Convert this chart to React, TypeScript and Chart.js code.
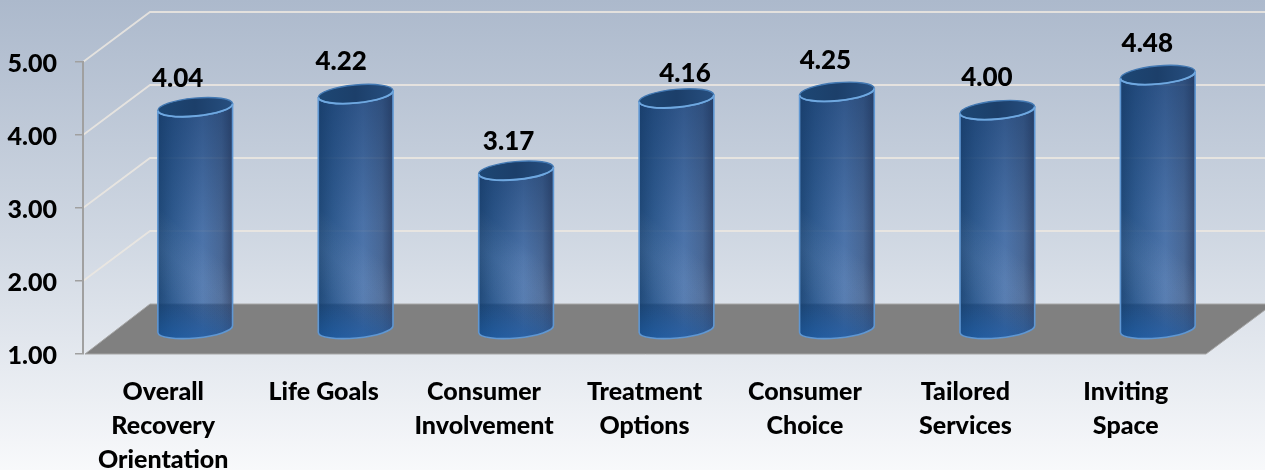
import React, { useEffect, useRef } from "react";
import { Chart, registerables } from "chart.js";

Chart.register(...registerables);

const categories = [
  ["Overall", "Recovery", "Orientation"],
  "Life Goals",
  ["Consumer", "Involvement"],
  ["Treatment", "Options"],
  ["Consumer", "Choice"],
  ["Tailored", "Services"],
  ["Inviting", "Space"],
];
const scores = [4.04, 4.22, 3.17, 4.16, 4.25, 4.0, 4.48];
const valueTicks = [1, 2, 3, 4, 5];

const FONT = "Lato, 'Open Sans', sans-serif";
const DEPTH_X = 67;
const DEPTH_Y = 50;
const BAR_SHIFT = 32;
const TILT = (-5.3 * Math.PI) / 180;
const RY = 9;
const labelNudge = [
  [-19, -28],
  [-16, -32],
  [-9, -29],
  [7, -25],
  [-13, -31],
  [-12, -32],
  [-12, -31],
];

const scenePlugin = {
  id: "scene",
  beforeDraw(chart: any) {
    const { ctx, width, height, chartArea } = chart;
    const y = chart.scales.y;
    const bg = ctx.createLinearGradient(0, 0, 0, height);
    bg.addColorStop(0, "#acb9cc");
    bg.addColorStop(0.5, "#cfd7e2");
    bg.addColorStop(1, "#f8f9fb");
    ctx.save();
    ctx.fillStyle = bg;
    ctx.fillRect(0, 0, width, height);

    const l = chartArea.left;
    const r = chartArea.right;
    // side + back wall gridlines
    ctx.strokeStyle = "rgba(236,232,224,0.85)";
    ctx.lineWidth = 1.8;
    valueTicks.slice(1).forEach((v) => {
      const py = y.getPixelForValue(v);
      ctx.beginPath();
      ctx.moveTo(l, py);
      ctx.lineTo(l + DEPTH_X, py - DEPTH_Y);
      ctx.lineTo(r + DEPTH_X, py - DEPTH_Y);
      ctx.stroke();
    });
    // floor
    const b = y.getPixelForValue(1);
    ctx.beginPath();
    ctx.moveTo(l + 2, b);
    ctx.lineTo(l + DEPTH_X, b - DEPTH_Y);
    ctx.lineTo(r + DEPTH_X, b - DEPTH_Y);
    ctx.lineTo(r, b);
    ctx.closePath();
    ctx.fillStyle = "#808080";
    ctx.fill();
    ctx.strokeStyle = "#a6a6a6";
    ctx.lineWidth = 1;
    ctx.stroke();
    ctx.restore();
  },
  beforeDatasetDraw(chart: any, args: any) {
    const { ctx } = chart;
    const meta = chart.getDatasetMeta(args.index);
    const floorY = chart.scales.y.getPixelForValue(1);
    ctx.save();
    meta.data.forEach((bar: any) => {
      const cx = bar.x + BAR_SHIFT;
      const rx = bar.width / 2;
      const topY = bar.y - DEPTH_Y / 2;
      const baseY = floorY - DEPTH_Y / 2;
      const dx = rx * Math.cos(TILT);
      const dy = rx * Math.sin(TILT);

      const bodyPath = () => {
        ctx.beginPath();
        ctx.moveTo(cx - dx, topY - dy);
        ctx.ellipse(cx, baseY, rx, RY, TILT, Math.PI, 0, true);
        ctx.lineTo(cx + dx, topY + dy);
        ctx.ellipse(cx, topY, rx, RY, TILT, 0, Math.PI, false);
        ctx.closePath();
      };

      // horizontal shading
      const h = ctx.createLinearGradient(cx - rx, 0, cx + rx, 0);
      h.addColorStop(0, "rgba(18,62,112,0.92)");
      h.addColorStop(0.2, "rgba(14,66,128,0.82)");
      h.addColorStop(0.6, "rgba(13,69,146,0.66)");
      h.addColorStop(0.85, "rgba(22,62,122,0.72)");
      h.addColorStop(1, "rgba(38,58,98,0.9)");
      bodyPath();
      ctx.fillStyle = h;
      ctx.fill();

      // darker toward the top
      const v = ctx.createLinearGradient(0, topY, 0, baseY);
      v.addColorStop(0, "rgba(16,48,92,0.42)");
      v.addColorStop(0.55, "rgba(16,48,92,0.06)");
      v.addColorStop(1, "rgba(16,48,92,0)");
      bodyPath();
      ctx.fillStyle = v;
      ctx.fill();

      // diagonal sheen
      const s = ctx.createLinearGradient(cx - rx, baseY, cx + rx, baseY - 90);
      s.addColorStop(0.25, "rgba(255,255,255,0)");
      s.addColorStop(0.55, "rgba(190,210,240,0.08)");
      s.addColorStop(0.8, "rgba(255,255,255,0)");
      bodyPath();
      ctx.fillStyle = s;
      ctx.fill();

      // saturated blue near the foot
      const foot = ctx.createLinearGradient(0, baseY - 25, 0, baseY + RY);
      foot.addColorStop(0, "rgba(30,110,200,0)");
      foot.addColorStop(1, "rgba(30,110,200,0.4)");
      bodyPath();
      ctx.fillStyle = foot;
      ctx.fill();

      bodyPath();
      ctx.strokeStyle = "#5f97d3";
      ctx.lineWidth = 1.6;
      ctx.stroke();

      // top opening
      const t = ctx.createLinearGradient(cx - rx, 0, cx + rx, 0);
      t.addColorStop(0, "#1d4774");
      t.addColorStop(0.5, "#1c3f6a");
      t.addColorStop(1, "#274f80");
      ctx.beginPath();
      ctx.ellipse(cx, topY, rx, RY, TILT, 0, Math.PI * 2);
      ctx.fillStyle = t;
      ctx.fill();
      ctx.strokeStyle = "#4379b3";
      ctx.lineWidth = 1.4;
      ctx.stroke();
      ctx.beginPath();
      ctx.ellipse(cx, topY, rx, RY, TILT, 0, Math.PI);
      ctx.strokeStyle = "#6fa8e0";
      ctx.lineWidth = 1.9;
      ctx.stroke();
    });
    ctx.restore();
    return false;
  },
  afterDatasetsDraw(chart: any) {
    const { ctx } = chart;
    const meta = chart.getDatasetMeta(0);
    ctx.save();
    ctx.fillStyle = "#000";
    ctx.font = `900 26px ${FONT}`;
    ctx.textAlign = "center";
    ctx.textBaseline = "middle";
    meta.data.forEach((bar: any, i: number) => {
      const cx = bar.x + DEPTH_X / 2 + labelNudge[i][0];
      const cy = bar.y - DEPTH_Y / 2 + labelNudge[i][1];
      ctx.fillText(scores[i].toFixed(2), cx, cy);
    });
    ctx.restore();
  },
};

export default function App() {
  const ref = useRef<HTMLCanvasElement>(null);
  useEffect(() => {
    document.body.style.margin = "0";
    const chart = new Chart(ref.current as HTMLCanvasElement, {
      type: "bar",
      data: {
        labels: categories as any,
        datasets: [
          {
            label: "Score",
            data: scores,
            backgroundColor: "#2f5f9c",
            categoryPercentage: 1,
            barPercentage: 0.4676,
            clip: false as any,
          },
        ],
      },
      options: {
        responsive: false,
        animation: false,
        devicePixelRatio: 1,
        layout: { padding: { top: 62, right: 59, left: 0, bottom: 0 } },
        plugins: { legend: { display: false }, tooltip: { enabled: false } },
        scales: {
          x: {
            grid: { display: false },
            border: { display: false },
            afterFit(scale: any) {
              scale.height = 116;
            },
            ticks: {
              color: "#000",
              maxRotation: 0,
              autoSkip: false,
              padding: 13,
              font: { family: FONT, weight: "900", size: 25, lineHeight: 34 / 25 },
            },
          },
          y: {
            min: 1,
            max: 5,
            afterFit(scale: any) {
              scale.width = 83;
            },
            afterBuildTicks(scale: any) {
              scale.ticks = valueTicks.map((value) => ({ value }));
            },
            grid: {
              drawOnChartArea: false,
              drawTicks: true,
              tickLength: 8,
              color: "#a0a0a0",
              lineWidth: 1.5,
            },
            border: { display: true, color: "#a0a0a0", width: 2 },
            ticks: {
              color: "#000",
              padding: 18,
              labelOffset: 2,
              font: { family: FONT, weight: "900", size: 25 },
              callback: (v: any) => Number(v).toFixed(2),
            },
          },
        },
      },
      plugins: [scenePlugin],
    } as any);
    return () => chart.destroy();
  }, []);
  return (
    <div style={{ position: "absolute", left: 0, top: 0, width: 1265, height: 470, overflow: "hidden" }}>
      <canvas ref={ref} width={1265} height={470} style={{ display: "block" }} />
    </div>
  );
}
